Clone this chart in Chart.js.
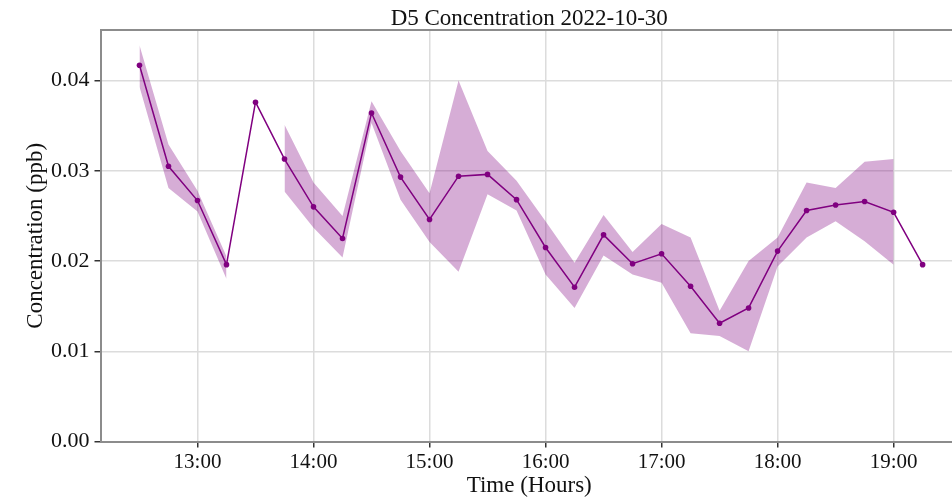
<!DOCTYPE html>
<html>
<head>
<meta charset="utf-8">
<title>D5 Concentration 2022-10-30</title>
<script src="https://cdn.jsdelivr.net/npm/chart.js@4.4.1/dist/chart.umd.min.js"></script>
<style>
  html, body { margin: 0; padding: 0; background: #fff; overflow: hidden; }
  #wrap { width: 952px; height: 500px; overflow: hidden; }
</style>
</head>
<body>
<div id="wrap">
  <canvas id="myChart" width="962" height="500"></canvas>
</div>
<script>
  // sample times, 15 min steps
  const times = ["12:30", "12:45", "13:00", "13:15", "13:30", "13:45", "14:00", "14:15",
    "14:30", "14:45", "15:00", "15:15", "15:30", "15:45", "16:00", "16:15", "16:30",
    "16:45", "17:00", "17:15", "17:30", "17:45", "18:00", "18:15", "18:30", "18:45",
    "19:00", "19:15"];

  // mean concentration (ppb)
  const conc = [0.0417, 0.0305, 0.0267, 0.0196, 0.0376, 0.0313, 0.0260, 0.0225,
    0.0364, 0.0293, 0.0246, 0.0294, 0.0296, 0.0268, 0.0215, 0.0171, 0.0229,
    0.0197, 0.0208, 0.0172, 0.0131, 0.0148, 0.0211, 0.0256, 0.0262, 0.0266,
    0.0254, 0.0196];

  // shaded band, upper and lower edge (null = no band)
  const bandHigh = [0.0439, 0.0329, 0.0278, 0.0205, null, 0.0351, 0.0287, 0.0250,
    0.0377, 0.0322, 0.0275, 0.0400, 0.0322, 0.0289, 0.0244, 0.0198, 0.0251,
    0.0210, 0.0241, 0.0226, 0.0145, 0.0200, 0.0226, 0.0287, 0.0281, 0.0310,
    0.0313, null];
  const bandLow = [0.0393, 0.0281, 0.0255, 0.0180, null, 0.0277, 0.0237, 0.0204,
    0.0353, 0.0268, 0.0221, 0.0188, 0.0274, 0.0256, 0.0185, 0.0148, 0.0206,
    0.0185, 0.0176, 0.0120, 0.0117, 0.0100, 0.0194, 0.0226, 0.0244, 0.0222,
    0.0196, null];

  const xTicks = [13, 14, 15, 16, 17, 18, 19];

  const toHours = t => {
    const [h, m] = t.split(":").map(Number);
    return h + m / 60;
  };
  const pts = arr => times.map((t, i) => ({ x: toHours(t), y: arr[i] }));

  const serif = "'Liberation Serif', 'Times New Roman', serif";

  const topFrame = {
    id: "topFrame",
    afterDraw(chart) {
      const { ctx, chartArea } = chart;
      ctx.save();
      ctx.strokeStyle = "#8c8c8c";
      ctx.lineWidth = 2;
      ctx.beginPath();
      ctx.moveTo(chartArea.left, chartArea.top);
      ctx.lineTo(chartArea.right, chartArea.top);
      ctx.stroke();
      ctx.restore();
    },
  };

  new Chart(document.getElementById("myChart"), {
    type: "line",
    data: {
      datasets: [
        {
          label: "low",
          data: pts(bandLow),
          borderWidth: 0,
          pointRadius: 0,
          fill: false,
        },
        {
          label: "high",
          data: pts(bandHigh),
          borderWidth: 0,
          pointRadius: 0,
          backgroundColor: "rgba(128, 0, 128, 0.32)",
          fill: "-1",
        },
        {
          label: "D5",
          data: pts(conc),
          borderColor: "#800080",
          backgroundColor: "#800080",
          borderWidth: 1.5,
          pointRadius: 2.8,
          pointBorderWidth: 0,
          fill: false,
        },
      ],
    },
    plugins: [topFrame],
    options: {
      responsive: false,
      animation: false,
      devicePixelRatio: 1,
      layout: { padding: { left: 0, right: 1, top: 0, bottom: 0 } },
      plugins: {
        legend: { display: false },
        tooltip: { enabled: false },
        title: {
          display: true,
          fullSize: false,
          text: "D5 Concentration 2022-10-30",
          color: "#111",
          font: { family: serif, size: 23, weight: "normal", lineHeight: 1 },
          padding: { top: 7, bottom: 0 },
        },
      },
      scales: {
        x: {
          type: "linear",
          min: 12.164,
          max: 19.555,
          afterBuildTicks: axis => {
            axis.ticks = xTicks.map(v => ({ value: v }));
          },
          ticks: {
            callback: v => v + ":00",
            color: "#111",
            padding: 4,
            maxRotation: 0,
            font: { family: serif, size: 21, lineHeight: 1 },
          },
          grid: { color: "#dcdcdc", lineWidth: 1.5, tickLength: 6, tickColor: "#333" },
          border: { color: "#8c8c8c", width: 2 },
          title: {
            display: true,
            text: "Time (Hours)",
            color: "#111",
            font: { family: serif, size: 23, lineHeight: 1 },
            padding: { top: -2, bottom: 2.5 },
          },
        },
        y: {
          min: 0,
          max: 0.0456,
          ticks: {
            stepSize: 0.01,
            includeBounds: false,
            callback: v => v.toFixed(2),
            color: "#111",
            padding: 5,
            font: { family: serif, size: 22, lineHeight: 1 },
          },
          grid: { color: "#dcdcdc", lineWidth: 1.5, tickLength: 6, tickColor: "#333" },
          border: { color: "#8c8c8c", width: 2 },
          title: {
            display: true,
            text: "Concentration (ppb)",
            color: "#111",
            font: { family: serif, size: 23, lineHeight: 1 },
            padding: { top: 24, bottom: -1 },
          },
        },
      },
    },
  });
</script>
</body>
</html>
